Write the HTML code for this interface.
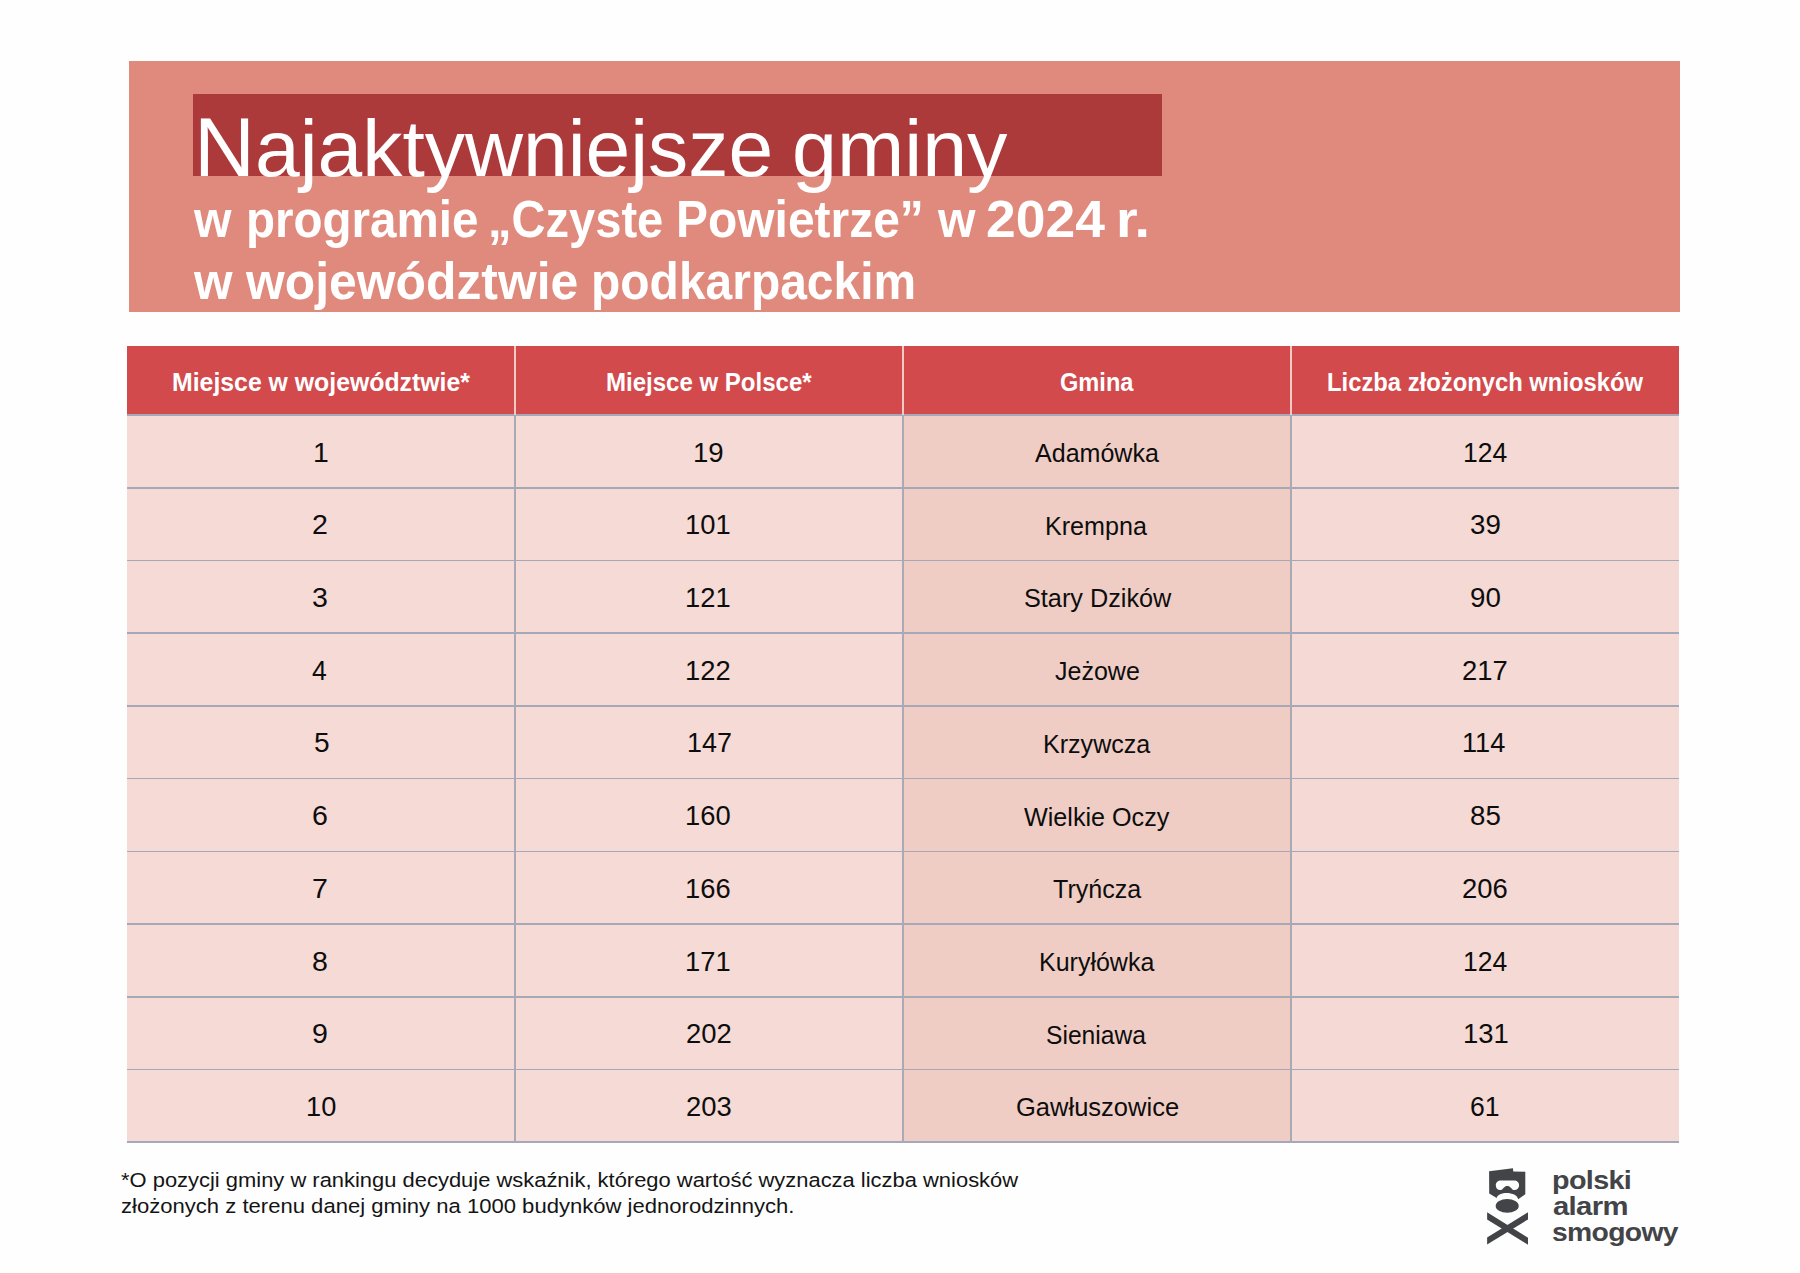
<!DOCTYPE html>
<html><head><meta charset="utf-8"><title>Najaktywniejsze gminy</title>
<style>
html,body{margin:0;padding:0}
body{width:1800px;height:1273px;position:relative;overflow:hidden;background:#fefefe;font-family:"Liberation Sans",sans-serif}
.a{position:absolute}
.t{position:absolute;white-space:nowrap;line-height:1;transform-origin:0 0}
.b{font-weight:bold}
</style></head><body>
<div class="a" style="left:129px;top:61px;width:1551px;height:251px;background:#df8a7c"></div>
<div class="a" style="left:193px;top:94px;width:969px;height:82px;background:#ac3a3b"></div>
<div class="a" style="left:127px;top:346px;width:1552px;height:69px;background:#d24a4c"></div>

<div class="a" style="left:127px;top:416px;width:776px;height:727px;background:#f5dad6"></div>
<div class="a" style="left:903px;top:416px;width:388px;height:727px;background:#efcdc5"></div>
<div class="a" style="left:1291px;top:416px;width:388px;height:727px;background:#f4d9d4"></div>
<div class="a" style="left:127px;top:414.20px;width:1552px;height:1.6px;background:#a4a8b7"></div>
<div class="a" style="left:127px;top:486.92px;width:1552px;height:1.6px;background:#a4a8b7"></div>
<div class="a" style="left:127px;top:559.64px;width:1552px;height:1.6px;background:#a4a8b7"></div>
<div class="a" style="left:127px;top:632.36px;width:1552px;height:1.6px;background:#a4a8b7"></div>
<div class="a" style="left:127px;top:705.08px;width:1552px;height:1.6px;background:#a4a8b7"></div>
<div class="a" style="left:127px;top:777.80px;width:1552px;height:1.6px;background:#a4a8b7"></div>
<div class="a" style="left:127px;top:850.52px;width:1552px;height:1.6px;background:#a4a8b7"></div>
<div class="a" style="left:127px;top:923.24px;width:1552px;height:1.6px;background:#a4a8b7"></div>
<div class="a" style="left:127px;top:995.96px;width:1552px;height:1.6px;background:#a4a8b7"></div>
<div class="a" style="left:127px;top:1068.68px;width:1552px;height:1.6px;background:#a4a8b7"></div>
<div class="a" style="left:127px;top:1141.40px;width:1552px;height:1.6px;background:#a4a8b7"></div>
<div class="a" style="left:514.1px;top:346px;width:1.8px;height:69px;background:#f1c9c5"></div>
<div class="a" style="left:514.1px;top:415px;width:1.8px;height:728px;background:#aaaab7"></div>
<div class="a" style="left:902.1px;top:346px;width:1.8px;height:69px;background:#f1c9c5"></div>
<div class="a" style="left:902.1px;top:415px;width:1.8px;height:728px;background:#aaaab7"></div>
<div class="a" style="left:1290.1px;top:346px;width:1.8px;height:69px;background:#f1c9c5"></div>
<div class="a" style="left:1290.1px;top:415px;width:1.8px;height:728px;background:#aaaab7"></div>
<div class="t" style="left:193.97px;top:108.96px;font-size:80.00px;color:#ffffff;transform:scaleX(1.0046)"><span style="font-size:84px;line-height:0">N</span>ajaktywniejsze</div>
<div class="t" style="left:791.96px;top:108.96px;font-size:80.00px;color:#ffffff;transform:scaleX(1.0095)">gminy</div>
<div class="t b" style="left:193.50px;top:192.85px;font-size:52.50px;color:#ffffff;transform:scaleX(0.9183)">w</div>
<div class="t b" style="left:245.54px;top:192.85px;font-size:52.50px;color:#ffffff;transform:scaleX(0.9053)">programie</div>
<div class="t b" style="left:487.59px;top:192.85px;font-size:52.50px;color:#ffffff;transform:scaleX(0.8967)">„Czyste</div>
<div class="t b" style="left:676.01px;top:192.85px;font-size:52.50px;color:#ffffff;transform:scaleX(0.9135)">Powietrze”</div>
<div class="t b" style="left:938.01px;top:192.85px;font-size:52.50px;color:#ffffff;transform:scaleX(0.9183)">w</div>
<div class="t b" style="left:985.76px;top:192.85px;font-size:52.50px;color:#ffffff;transform:scaleX(1.0177)">2024</div>
<div class="t b" style="left:1115.97px;top:192.85px;font-size:52.50px;color:#ffffff;transform:scaleX(1.0622)">r.</div>
<div class="t b" style="left:194.01px;top:254.65px;font-size:52.50px;color:#ffffff;transform:scaleX(0.9437)">w</div>
<div class="t b" style="left:246.49px;top:254.65px;font-size:52.50px;color:#ffffff;transform:scaleX(0.9491)">województwie</div>
<div class="t b" style="left:590.55px;top:254.65px;font-size:52.50px;color:#ffffff;transform:scaleX(0.9135)">podkarpackim</div>
<div class="t b" style="left:172.13px;top:368.68px;font-size:26.60px;color:#ffffff;transform:scaleX(0.9335)">Miejsce w województwie*</div>
<div class="t b" style="left:606.30px;top:368.68px;font-size:26.60px;color:#ffffff;transform:scaleX(0.9031)">Miejsce w Polsce*</div>
<div class="t b" style="left:1060.00px;top:368.68px;font-size:26.60px;color:#ffffff;transform:scaleX(0.8880)">Gmina</div>
<div class="t b" style="left:1327.32px;top:368.68px;font-size:26.60px;color:#ffffff;transform:scaleX(0.8951)">Liczba złożonych wniosków</div>
<div class="t" style="left:313.08px;top:439.54px;font-size:27.00px;color:#0d0d0d;transform:scaleX(1.0517)">1</div>
<div class="t" style="left:693.18px;top:439.54px;font-size:27.00px;color:#0d0d0d;transform:scaleX(1.0216)">19</div>
<div class="t" style="left:1034.69px;top:439.96px;font-size:26.50px;color:#0d0d0d;transform:scaleX(0.9451)">Adamówka</div>
<div class="t" style="left:1462.54px;top:439.54px;font-size:27.00px;color:#0d0d0d;transform:scaleX(0.9811)">124</div>
<div class="t" style="left:312.12px;top:512.26px;font-size:27.00px;color:#0d0d0d;transform:scaleX(1.0580)">2</div>
<div class="t" style="left:685.20px;top:512.26px;font-size:27.00px;color:#0d0d0d;transform:scaleX(1.0129)">101</div>
<div class="t" style="left:1045.00px;top:512.68px;font-size:26.50px;color:#0d0d0d;transform:scaleX(0.9473)">Krempna</div>
<div class="t" style="left:1470.15px;top:512.26px;font-size:27.00px;color:#0d0d0d;transform:scaleX(1.0255)">39</div>
<div class="t" style="left:312.07px;top:584.98px;font-size:27.00px;color:#0d0d0d;transform:scaleX(1.0580)">3</div>
<div class="t" style="left:685.20px;top:584.98px;font-size:27.00px;color:#0d0d0d;transform:scaleX(1.0129)">121</div>
<div class="t" style="left:1023.68px;top:585.40px;font-size:26.50px;color:#0d0d0d;transform:scaleX(0.9530)">Stary Dzików</div>
<div class="t" style="left:1470.15px;top:584.98px;font-size:27.00px;color:#0d0d0d;transform:scaleX(1.0255)">90</div>
<div class="t" style="left:312.15px;top:657.70px;font-size:27.00px;color:#0d0d0d;transform:scaleX(0.9824)">4</div>
<div class="t" style="left:685.20px;top:657.70px;font-size:27.00px;color:#0d0d0d;transform:scaleX(1.0129)">122</div>
<div class="t" style="left:1055.19px;top:658.12px;font-size:26.50px;color:#0d0d0d;transform:scaleX(0.9442)">Jeżowe</div>
<div class="t" style="left:1462.15px;top:657.70px;font-size:27.00px;color:#0d0d0d;transform:scaleX(1.0157)">217</div>
<div class="t" style="left:313.63px;top:730.42px;font-size:27.00px;color:#0d0d0d;transform:scaleX(1.0411)">5</div>
<div class="t" style="left:686.80px;top:730.42px;font-size:27.00px;color:#0d0d0d;transform:scaleX(0.9954)">147</div>
<div class="t" style="left:1042.60px;top:730.84px;font-size:26.50px;color:#0d0d0d;transform:scaleX(0.9460)">Krzywcza</div>
<div class="t" style="left:1462.36px;top:730.42px;font-size:27.00px;color:#0d0d0d;transform:scaleX(1.0071)">114</div>
<div class="t" style="left:312.07px;top:803.14px;font-size:27.00px;color:#0d0d0d;transform:scaleX(1.0580)">6</div>
<div class="t" style="left:685.23px;top:803.14px;font-size:27.00px;color:#0d0d0d;transform:scaleX(1.0129)">160</div>
<div class="t" style="left:1024.39px;top:803.56px;font-size:26.50px;color:#0d0d0d;transform:scaleX(0.9492)">Wielkie Oczy</div>
<div class="t" style="left:1470.15px;top:803.14px;font-size:27.00px;color:#0d0d0d;transform:scaleX(1.0255)">85</div>
<div class="t" style="left:312.12px;top:875.86px;font-size:27.00px;color:#0d0d0d;transform:scaleX(1.0580)">7</div>
<div class="t" style="left:685.23px;top:875.86px;font-size:27.00px;color:#0d0d0d;transform:scaleX(1.0129)">166</div>
<div class="t" style="left:1052.53px;top:876.28px;font-size:26.50px;color:#0d0d0d;transform:scaleX(0.9462)">Tryńcza</div>
<div class="t" style="left:1462.16px;top:875.86px;font-size:27.00px;color:#0d0d0d;transform:scaleX(1.0157)">206</div>
<div class="t" style="left:312.07px;top:948.58px;font-size:27.00px;color:#0d0d0d;transform:scaleX(1.0580)">8</div>
<div class="t" style="left:685.20px;top:948.58px;font-size:27.00px;color:#0d0d0d;transform:scaleX(1.0129)">171</div>
<div class="t" style="left:1038.52px;top:949.00px;font-size:26.50px;color:#0d0d0d;transform:scaleX(0.9433)">Kuryłówka</div>
<div class="t" style="left:1462.54px;top:948.58px;font-size:27.00px;color:#0d0d0d;transform:scaleX(0.9811)">124</div>
<div class="t" style="left:312.12px;top:1021.30px;font-size:27.00px;color:#0d0d0d;transform:scaleX(1.0580)">9</div>
<div class="t" style="left:686.15px;top:1021.30px;font-size:27.00px;color:#0d0d0d;transform:scaleX(1.0157)">202</div>
<div class="t" style="left:1046.35px;top:1021.72px;font-size:26.50px;color:#0d0d0d;transform:scaleX(0.9293)">Sieniawa</div>
<div class="t" style="left:1462.56px;top:1021.30px;font-size:27.00px;color:#0d0d0d;transform:scaleX(1.0152)">131</div>
<div class="t" style="left:306.29px;top:1094.02px;font-size:27.00px;color:#0d0d0d;transform:scaleX(1.0081)">10</div>
<div class="t" style="left:686.16px;top:1094.02px;font-size:27.00px;color:#0d0d0d;transform:scaleX(1.0157)">203</div>
<div class="t" style="left:1015.94px;top:1094.44px;font-size:26.50px;color:#0d0d0d;transform:scaleX(0.9629)">Gawłuszowice</div>
<div class="t" style="left:1470.40px;top:1094.02px;font-size:27.00px;color:#0d0d0d;transform:scaleX(0.9864)">61</div>
<div class="t" style="left:120.93px;top:1169.84px;font-size:20.50px;color:#141414;transform:scaleX(1.0698)">*O pozycji gminy w rankingu decyduje wskaźnik, którego wartość wyznacza liczba wniosków</div>
<div class="t" style="left:120.92px;top:1195.74px;font-size:20.50px;color:#141414;transform:scaleX(1.0764)">złożonych z terenu danej gminy na 1000 budynków jednorodzinnych.</div>
<div class="t b" style="left:1551.92px;top:1166.86px;font-size:26.50px;color:#434447;transform:scaleX(1.0844);letter-spacing:-0.60px">polski</div>
<div class="t b" style="left:1552.99px;top:1192.86px;font-size:26.50px;color:#434447;transform:scaleX(1.1047);letter-spacing:-0.60px">alarm</div>
<div class="t b" style="left:1551.96px;top:1218.96px;font-size:26.50px;color:#434447;transform:scaleX(1.0673);letter-spacing:-0.60px">smogowy</div>
<svg class="a" style="left:1480px;top:1160px" width="60" height="90" viewBox="1480 1160 60 90">
<g fill="#434447">
<path fill-rule="evenodd" d="M1489.1 1171.2 L1512.9 1168.2 L1513.3 1171.4 L1525.3 1171.7 L1525.3 1194.3 L1518.2 1199.3 C1517 1191 1498 1191 1496.7 1197.9 L1489.2 1193.6 Z M1495.8 1185.3 C1495.8 1182 1498 1180.4 1501 1180.4 L1514 1180.4 C1517 1180.4 1519.1 1182.2 1519.1 1185.3 C1519.1 1188.3 1517 1190.1 1514.5 1190.1 C1513 1190.1 1512.5 1189.6 1511.6 1188.6 C1509.7 1186.4 1508.6 1185.9 1507.3 1185.9 C1506 1185.9 1504.9 1186.4 1503 1188.6 C1502.1 1189.6 1501.6 1190.1 1500.1 1190.1 C1497.6 1190.1 1495.8 1188.3 1495.8 1185.3 Z"/>
<ellipse cx="1507.2" cy="1205.9" rx="11.5" ry="6.9"/>
<path d="M1487.1 1212.3 L1528 1237.7 L1528 1244.8 L1487.1 1219.4 Z"/>
<path d="M1528 1212.3 L1487.1 1237.4 L1487.1 1244.5 L1528 1219.4 Z"/>
</g></svg>
</body></html>
